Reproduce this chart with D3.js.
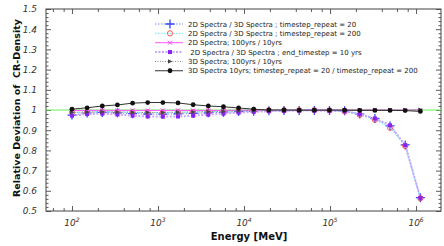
<!DOCTYPE html>
<html><head><meta charset="utf-8">
<script src="https://cdn.jsdelivr.net/npm/d3@7"></script>
<style>body{margin:0;background:#fff}svg{display:block}text{font-family:"DejaVu Sans",sans-serif}</style>
</head><body><svg id="c" width="444" height="246"></svg>
<script>
const energies = [100,150,225,337.5,506.25,759.4,1139,1709,2563,3844,5767,8650,12975,19462,29193,43789,65684,98526,147789,221684,332526,498789,748183,1122274];
const ts20     = [0.975,0.985,0.988,0.986,0.982,0.980,0.980,0.981,0.983,0.986,0.989,0.992,0.994,0.996,0.997,0.998,0.998,0.998,0.996,0.980,0.958,0.921,0.827,0.566];
const ts200    = [0.988,0.990,0.992,0.991,0.989,0.988,0.988,0.989,0.990,0.992,0.994,0.996,0.997,0.998,0.998,0.999,0.999,0.998,0.993,0.976,0.952,0.912,0.822,0.563];
const yrs2D    = [0.997,0.998,0.998,0.998,0.998,0.998,0.998,0.998,0.998,0.998,0.998,0.999,0.999,0.999,0.999,1.0,1.0,1.0,1.0,1.0,1.0,1.0,1.0,1.0];
const endTs    = [0.972,0.980,0.982,0.978,0.972,0.968,0.967,0.968,0.972,0.977,0.982,0.987,0.991,0.994,0.996,0.997,0.997,0.996,0.994,0.979,0.958,0.924,0.826,0.565];
const yrs3D    = [0.988,0.990,0.991,0.990,0.989,0.988,0.988,0.989,0.990,0.992,0.994,0.996,0.997,0.998,0.999,0.999,1.0,1.0,1.0,1.0,1.0,1.0,1.0,1.002];
const tsRatio3D= [1.004,1.011,1.020,1.025,1.034,1.037,1.037,1.035,1.026,1.020,1.016,1.010,1.004,1.0,1.0,0.999,0.999,0.999,0.999,0.998,0.998,0.998,0.997,0.993];
const labels = ["2D Spectra / 3D Spectra ; timestep_repeat = 20","2D Spectra / 3D Spectra ; timestep_repeat = 200","2D Spectra; 100yrs / 10yrs"," 2D Spectra / 3D Spectra ; end_timestep = 10 yrs","3D Spectra; 100yrs / 10yrs","3D Spectra 10yrs; timestep_repeat = 20 / timestep_repeat = 200"];
const xMajor = [1e2,1e3,1e4,1e5,1e6];
const yMajor = [0.5,0.6,0.7,0.8,0.9,1,1.1,1.2,1.3,1.4,1.5];

const svg = d3.select("#c");
const L=46,R=441,T=9,B=211;
const x = d3.scaleLog().domain([Math.pow(10,1.698),Math.pow(10,6.29)]).range([L,R]);
const y = d3.scaleLinear().domain([0.5,1.5]).range([B,T]);

// minor ticks
const xMinor=[];
[10,100,1000,1e4,1e5,1e6].forEach(d=>[2,4,6,8].forEach(m=>{const v=d*m; if(v>x.domain()[0]&&v<x.domain()[1]) xMinor.push(v);}));
const yMinor=d3.range(0,51).map(i=>0.5+i*0.02).filter(v=>yMajor.every(m=>Math.abs(m-v)>1e-6));

const g=svg.append("g");
function axes(){
  g.append("g").attr("transform",`translate(0,${B})`).call(d3.axisBottom(x).tickValues(xMinor).tickSize(-3).tickFormat(""));
  g.append("g").attr("transform",`translate(0,${B})`).call(d3.axisBottom(x).tickValues(xMajor).tickSize(-5).tickPadding(9).tickFormat(""));
  g.append("g").attr("transform",`translate(0,${T})`).call(d3.axisTop(x).tickValues(xMinor).tickSize(-3).tickFormat(""));
  g.append("g").attr("transform",`translate(0,${T})`).call(d3.axisTop(x).tickValues(xMajor).tickSize(-5).tickFormat(""));
  g.append("g").attr("transform",`translate(${L},0)`).call(d3.axisLeft(y).tickValues(yMinor).tickSize(-2.5).tickFormat(""));
  g.append("g").attr("transform",`translate(${L},0)`).call(d3.axisLeft(y).tickValues(yMajor).tickSize(-5).tickPadding(9).tickFormat(d=>d===1?"1":d3.format(".1f")(d)));
  g.append("g").attr("transform",`translate(${R},0)`).call(d3.axisRight(y).tickValues(yMinor).tickSize(-2.5).tickFormat(""));
  g.append("g").attr("transform",`translate(${R},0)`).call(d3.axisRight(y).tickValues(yMajor).tickSize(-5).tickFormat(""));
  g.selectAll(".domain").remove();
  g.selectAll(".tick line").attr("stroke","#333").attr("stroke-width",0.8);
  g.append("rect").attr("x",L).attr("y",T).attr("width",R-L).attr("height",B-T).attr("fill","none").attr("stroke","#444").attr("stroke-width",1);
  // x labels with superscript
  const xl=g.append("g");
  xMajor.forEach(v=>{
    const t=xl.append("text").attr("x",x(v)).attr("y",226).attr("text-anchor","middle").attr("font-size",9).attr("font-style","italic").attr("fill","#333");
    t.append("tspan").text("10");
    t.append("tspan").attr("font-size",6).attr("dy",-4).text(Math.round(Math.log10(v)));
  });
  g.selectAll(".tick text").attr("font-size",9).attr("font-style","italic").attr("fill","#333").attr("font-family","DejaVu Sans");
}
axes();

// reference line
svg.append("line").attr("x1",L).attr("x2",R).attr("y1",y(1)).attr("y2",y(1)).attr("stroke","#66ee55").attr("stroke-width",1);

const series=[
 {v:ts20, line:"#7f8cff", dash:"1.5,1.5", w:1, mk:"plus", mc:"#3344ff"},
 {v:ts200, line:"#66e8ee", dash:"1.5,1.5", w:1, mk:"circle", mc:"#ff4444"},
 {v:yrs2D, line:"#ff55ff", dash:null, w:1, mk:"cross", mc:"#ff44ff"},
 {v:endTs, line:"#c8a8ff", dash:"2,1.5", w:2, mk:"square", mc:"#8822ee"},
 {v:yrs3D, line:"#888888", dash:"1,1.5", w:1, mk:"tri", mc:"#444444"},
 {v:tsRatio3D, line:"#333333", dash:null, w:1, mk:"dot", mc:"#111111"}
];
function marker(sel,mk,c){
  if(mk==="plus"){sel.append("path").attr("d","M-4.5,0H4.5M0,-4.5V4.5").attr("stroke",c).attr("stroke-width",1.3);}
  else if(mk==="circle"){sel.append("circle").attr("r",2.6).attr("fill","none").attr("stroke",c).attr("stroke-width",0.9);}
  else if(mk==="cross"){sel.append("path").attr("d","M-2,-2L2,2M-2,2L2,-2").attr("stroke",c).attr("stroke-width",1);}
  else if(mk==="square"){sel.append("rect").attr("x",-2).attr("y",-2).attr("width",4).attr("height",4).attr("fill",c);}
  else if(mk==="tri"){sel.append("path").attr("d","M-2,-2.2L2.5,0L-2,2.2Z").attr("fill",c);}
  else if(mk==="dot"){sel.append("circle").attr("r",2.4).attr("fill",c);}
}
const line=d3.line().x((d,i)=>x(energies[i])).y(d=>y(d));
series.forEach(s=>{
  const p=svg.append("path").attr("d",line(s.v)).attr("fill","none").attr("stroke",s.line).attr("stroke-width",s.w);
  if(s.dash)p.attr("stroke-dasharray",s.dash);
  s.v.forEach((d,i)=>{marker(svg.append("g").attr("transform",`translate(${x(energies[i])},${y(d)})`),s.mk,s.mc);});
});

// legend
const lg=svg.append("g");
series.forEach((s,i)=>{
  const yy=24+i*9.35;
  const p=lg.append("line").attr("x1",155).attr("x2",183).attr("y1",yy).attr("y2",yy).attr("stroke",s.line).attr("stroke-width",s.w);
  if(s.dash)p.attr("stroke-dasharray",s.dash);
  marker(lg.append("g").attr("transform",`translate(170,${yy})`),s.mk,s.mc);
  lg.append("text").attr("x",188).attr("y",yy+2.5).attr("font-size",7).attr("fill","#222").style("white-space","pre").text(labels[i]);
});

// titles
svg.append("text").attr("x",249).attr("y",240).attr("text-anchor","middle").attr("font-size",10).attr("font-weight","bold").attr("fill","#111").text("Energy [MeV]");
svg.append("text").attr("transform","translate(20,108) rotate(-90)").attr("text-anchor","middle").attr("font-size",9.5).attr("font-weight","bold").attr("fill","#111").style("white-space","pre").text("Relative Deviation of  CR-Density");
</script></body></html>
